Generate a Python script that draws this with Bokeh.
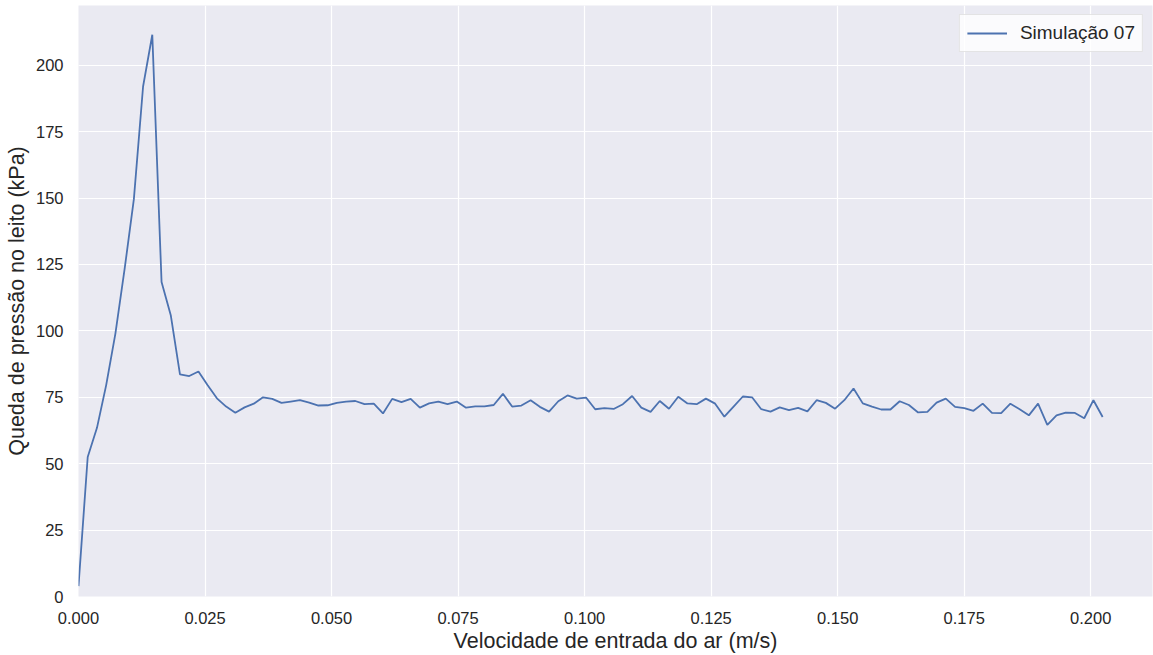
from bokeh.plotting import figure
from bokeh.models import FixedTicker, PrintfTickFormatter, Range1d, Legend, LegendItem
from bokeh.embed import file_html
from bokeh.resources import INLINE

# Velocidade de entrada do ar (m/s)
velocidade = [
    0.0, 0.00182, 0.00365, 0.00547, 0.00729, 0.00912, 0.01094, 0.01276, 0.01458, 0.01641,
    0.01823, 0.02005, 0.02188, 0.02370, 0.02552, 0.02735, 0.02917, 0.03099, 0.03281, 0.03464,
    0.03646, 0.03828, 0.04011, 0.04193, 0.04375, 0.04558, 0.04740, 0.04922, 0.05104, 0.05287,
    0.05469, 0.05651, 0.05834, 0.06016, 0.06198, 0.06381, 0.06563, 0.06745, 0.06927, 0.07110,
    0.07292, 0.07474, 0.07657, 0.07839, 0.08021, 0.08204, 0.08386, 0.08568, 0.08750, 0.08933,
    0.09115, 0.09297, 0.09480, 0.09662, 0.09844, 0.10027, 0.10209, 0.10391, 0.10573, 0.10756,
    0.10938, 0.11120, 0.11303, 0.11485, 0.11667, 0.11850, 0.12032, 0.12214, 0.12396, 0.12579,
    0.12761, 0.12943, 0.13126, 0.13308, 0.13490, 0.13673, 0.13855, 0.14037, 0.14219, 0.14402,
    0.14584, 0.14766, 0.14949, 0.15131, 0.15313, 0.15496, 0.15678, 0.15860, 0.16042, 0.16225,
    0.16407, 0.16589, 0.16772, 0.16954, 0.17136, 0.17319, 0.17501, 0.17683, 0.17865, 0.18048,
    0.18230, 0.18412, 0.18595, 0.18777, 0.18959, 0.19142, 0.19324, 0.19506, 0.19688, 0.19871,
    0.20053, 0.20235,
]

# Queda de pressão no leito (kPa)
queda_pressao = [
    3.9, 52.5, 63.5, 79.6, 99.0, 123.4, 149.6, 192.0, 211.5, 118.4,
    105.9, 83.6, 83.0, 84.7, 79.5, 74.6, 71.5, 69.2, 71.2, 72.6,
    75.0, 74.4, 72.9, 73.4, 73.9, 73.0, 71.9, 72.0, 72.9, 73.4,
    73.6, 72.4, 72.6, 68.9, 74.4, 73.2, 74.4, 71.1, 72.7, 73.4,
    72.4, 73.4, 71.1, 71.6, 71.6, 72.1, 76.3, 71.5, 71.9, 73.9,
    71.4, 69.6, 73.5, 75.7, 74.5, 74.9, 70.5, 70.9, 70.6, 72.4,
    75.5, 71.1, 69.5, 73.6, 70.7, 75.2, 72.7, 72.4, 74.5, 72.6,
    67.7, 71.5, 75.3, 75.0, 70.5, 69.6, 71.2, 70.2, 71.0, 69.7,
    73.9, 72.9, 70.7, 73.9, 78.3, 72.7, 71.5, 70.4, 70.4, 73.5,
    72.1, 69.3, 69.5, 73.0, 74.5, 71.4, 70.9, 69.9, 72.6, 69.1,
    69.0, 72.6, 70.5, 68.2, 72.6, 64.6, 68.2, 69.2, 69.1, 67.1,
    73.9, 67.6,
]

x_ticks = [0.0, 0.025, 0.05, 0.075, 0.1, 0.125, 0.15, 0.175, 0.2]
y_ticks = [0, 25, 50, 75, 100, 125, 150, 175, 200]

FONT = "Liberation Sans"
TXT = "#262626"

p = figure(width=1153, height=655, output_backend="svg", toolbar_location=None,
           x_range=Range1d(0, 0.2122), y_range=Range1d(0, 222.5),
           min_border_left=78, min_border_right=1, min_border_top=5, min_border_bottom=57)

p.background_fill_color = "#EAEAF2"
p.border_fill_color = "white"
p.outline_line_color = None

for g in (p.xgrid, p.ygrid):
    g.grid_line_color = "white"
    g.grid_line_width = 1.2

p.xaxis.ticker = FixedTicker(ticks=x_ticks)
p.yaxis.ticker = FixedTicker(ticks=y_ticks)
p.xaxis.formatter = PrintfTickFormatter(format="%.3f")
p.xgrid.ticker = FixedTicker(ticks=x_ticks)
p.ygrid.ticker = FixedTicker(ticks=y_ticks)

for ax in (p.xaxis, p.yaxis):
    ax.axis_line_color = None
    ax.major_tick_line_color = None
    ax.minor_tick_line_color = None
    ax.major_label_text_font = FONT
    ax.major_label_text_font_size = "16.5px"
    ax.major_label_text_color = TXT
    ax.major_label_standoff = 9
    ax.axis_label_text_font = FONT
    ax.axis_label_text_font_size = "21.5px"
    ax.axis_label_text_font_style = "normal"
    ax.axis_label_text_color = TXT

p.xaxis.axis_label = "Velocidade de entrada do ar (m/s)"
p.yaxis.axis_label = "Queda de pressão no leito (kPa)"
p.xaxis.axis_label_standoff = 2
p.yaxis.axis_label_standoff = 4

line = p.line(velocidade, queda_pressao, line_color="#4C72B0", line_width=1.8)

legend = Legend(items=[LegendItem(label="Simulação 07", renderers=[line])],
                location="top_right")
legend.margin = 9
legend.padding = 7
legend.spacing = 0
legend.glyph_width = 40
legend.glyph_height = 18
legend.label_standoff = 13
legend.label_text_font = FONT
legend.label_text_font_size = "19px"
legend.label_text_color = TXT
legend.background_fill_color = "white"
legend.background_fill_alpha = 0.8
legend.border_line_color = "#CCCCCC"
legend.border_line_width = 1
p.add_layout(legend)

open("out.html", "w").write(file_html(p, INLINE))
